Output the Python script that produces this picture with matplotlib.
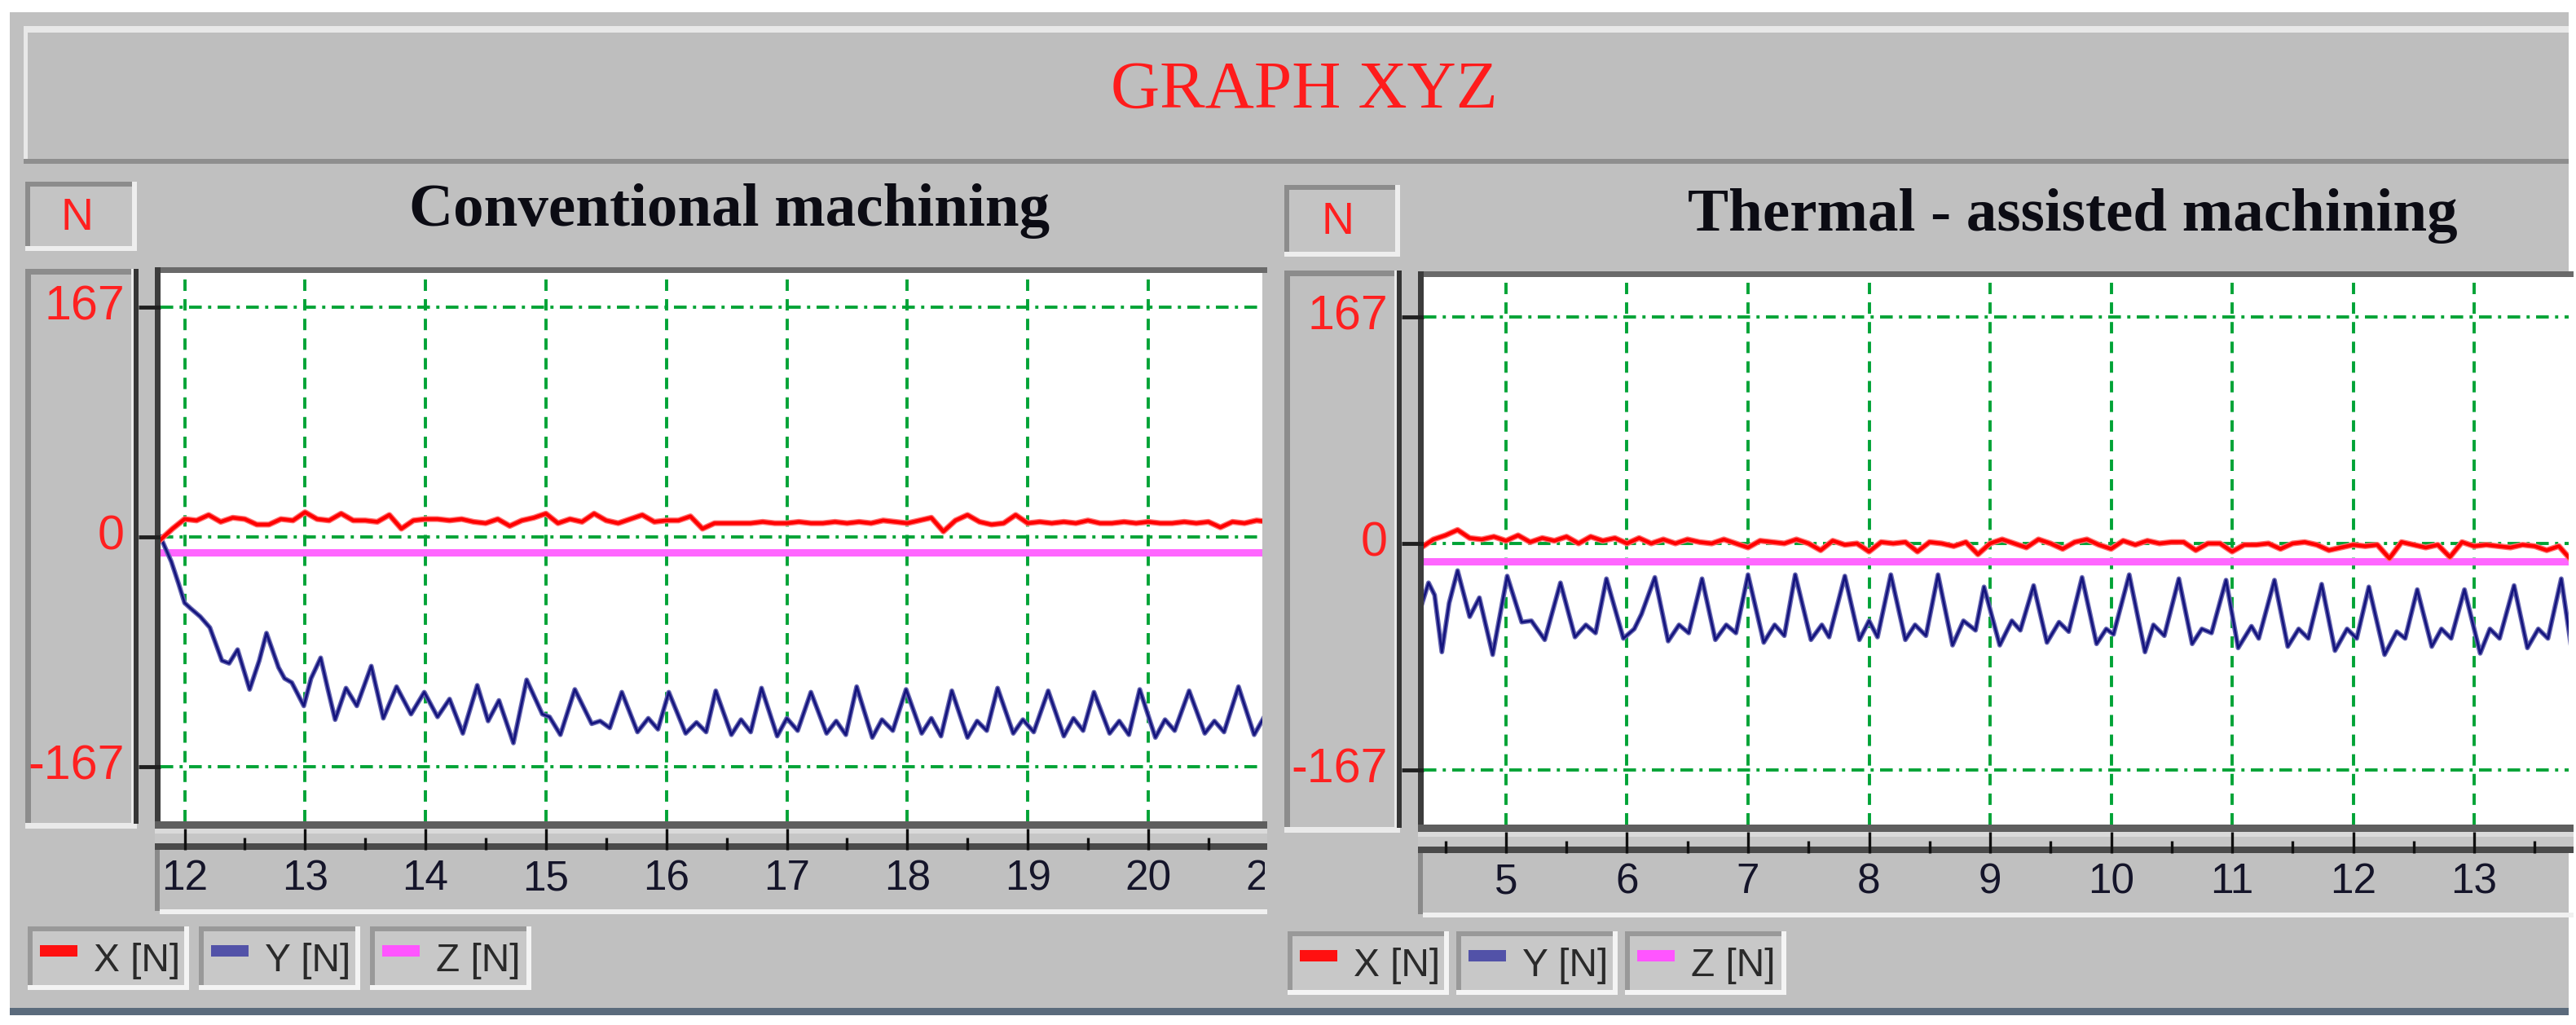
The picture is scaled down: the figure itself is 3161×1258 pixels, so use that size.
import matplotlib
matplotlib.use("Agg")
import matplotlib.pyplot as plt
import matplotlib.transforms as mtransforms
from matplotlib import font_manager
from matplotlib.patches import Rectangle
import numpy as np

# ---------------- values ----------------
force_ticks = [167, 0, -167]
legend_labels = ["X [N]", "Y [N]", "Z [N]"]

# conventional machining
conv_ticks = [12, 13, 14, 15, 16, 17, 18, 19, 20, 21]
conv_x_start, conv_x_step = 11.8, 0.1
conv_x = [-2, 6, 13, 12, 16, 11, 14, 13, 9, 9,
          13, 12, 18, 13, 12, 17, 12, 12, 11, 16,
          6, 12, 13, 13, 12, 13, 11, 10, 13, 8,
          12, 14, 17, 10, 13, 11, 17, 12, 10, 13,
          16, 11, 12, 12, 15, 6, 10, 10, 10, 10,
          11, 10, 10, 11, 10, 10, 11, 10, 11, 10,
          12, 11, 10, 12, 14, 4, 12, 16, 11, 9,
          10, 16, 10, 11, 10, 11, 10, 12, 10, 10,
          11, 10, 11, 10, 10, 11, 10, 11, 7, 11,
          10, 12, 11]
conv_y_t = [11.80, 11.84, 11.89, 11.95, 12.00, 12.05, 12.13, 12.21, 12.31, 12.37,
            12.44, 12.54, 12.62, 12.68, 12.78, 12.83, 12.89, 12.99, 13.05, 13.13,
            13.19, 13.25, 13.34, 13.43, 13.55, 13.65, 13.76, 13.88, 13.99, 14.10,
            14.20, 14.31, 14.43, 14.52, 14.61, 14.73, 14.84, 14.97, 15.03, 15.12,
            15.24, 15.38, 15.45, 15.53, 15.63, 15.76, 15.85, 15.93, 16.02, 16.16,
            16.25, 16.33,
            16.41, 16.54, 16.62, 16.70, 16.79, 16.92, 17.00, 17.09,
            17.20, 17.33, 17.41, 17.49, 17.58, 17.71, 17.79, 17.88,
            17.99, 18.12, 18.20, 18.28, 18.37, 18.50, 18.58, 18.66,
            18.75, 18.88, 18.96, 19.05, 19.17, 19.30, 19.38, 19.46,
            19.55, 19.68, 19.76, 19.84, 19.93, 20.06, 20.14, 20.22,
            20.34, 20.47, 20.55, 20.63, 20.75, 20.88, 20.97]
conv_y = [0, -8, -18, -34, -48, -52, -58, -66, -90, -92,
          -82, -111, -90, -70, -95, -103, -106, -123, -103, -88,
          -111, -133, -110, -123, -94, -132, -109, -129, -113, -131,
          -118, -143, -108, -134, -119, -150, -104, -129, -131, -144,
          -111, -136, -134, -139, -113, -142, -132, -140, -113, -143,
          -135, -142,
          -112, -144, -133, -142, -110, -145, -132, -141,
          -113, -143, -134, -144, -109, -146, -133, -141,
          -111, -143, -132, -145, -112, -146, -134, -141,
          -110, -143, -133, -142, -112, -145, -132, -141,
          -113, -143, -134, -144, -111, -146, -133, -141,
          -112, -143, -134, -142, -109, -144, -130]
conv_z = -11

# thermal-assisted machining
therm_ticks = [5, 6, 7, 8, 9, 10, 11, 12, 13, 14]
therm_x_start, therm_x_step = 4.3, 0.1
therm_x = [-3, 3, 6, 10, 4, 3, 5, 2, 6, 1,
           4, 2, 5, 0, 5, 2, 4, 0, 4, 0,
           3, 0, 3, 1, 0, 3, 0, -3, 2, 1,
           0, 3, 0, -5, 2, -1, 0, -6, 1, 0,
           1, -6, 1, 0, -2, 1, -8, 0, 3, 0,
           -3, 3, 0, -4, 1, 3, -1, -4, 2, -1,
           2, 0, 1, 1, -5, 0, 0, -6, -1, -1,
           0, -4, 0, 1, -1, -5, -3, -1, -2, -1,
           -11, 1, -1, -3, -1, -10, 1, -2, -1, -2,
           -3, -1, -2, -5, -2, -12, -1, -4]
therm_y_t = [4.30, 4.36, 4.41, 4.47, 4.53, 4.60, 4.70, 4.78, 4.89, 5.01,
             5.13, 5.21, 5.32, 5.45, 5.57, 5.66, 5.74, 5.83, 5.97, 6.06,
             6.12, 6.23, 6.34, 6.43, 6.51, 6.62, 6.73, 6.82, 6.90, 7.00,
             7.13, 7.22, 7.30, 7.39, 7.52, 7.61, 7.67, 7.80, 7.92, 8.00,
             8.07, 8.18, 8.30, 8.38, 8.47, 8.57, 8.69, 8.78, 8.88, 8.95,
             9.08, 9.18, 9.25, 9.36, 9.47, 9.57, 9.65, 9.76, 9.88, 9.96,
             10.02, 10.15, 10.28, 10.35, 10.44, 10.56, 10.67, 10.75, 10.83, 10.95,
             11.05, 11.16, 11.22, 11.35, 11.46, 11.55, 11.63, 11.74, 11.85, 11.95,
             12.03, 12.13, 12.26, 12.36, 12.43, 12.53, 12.65, 12.73, 12.81, 12.92,
             13.05, 13.13, 13.21, 13.33, 13.44, 13.53, 13.61, 13.72, 13.80, 13.88]
therm_y = [-46, -29, -38, -80, -44, -20, -54, -40, -82, -24,
           -58, -57, -71, -29, -69, -60, -66, -26, -70, -63,
           -52, -25, -72, -60, -66, -26, -71, -60, -66, -23,
           -73, -60, -68, -23, -71, -60, -69, -24, -71, -57,
           -69, -23, -71, -60, -68, -23, -75, -57, -64, -32,
           -75, -57, -64, -31, -73, -58, -65, -25, -74, -63,
           -67, -23, -80, -60, -68, -26, -74, -63, -66, -27,
           -77, -61, -70, -27, -76, -63, -70, -30, -79, -63,
           -70, -32, -82, -65, -70, -34, -76, -63, -70, -34,
           -81, -63, -70, -31, -77, -63, -70, -26, -75, -60]
therm_z = -13.5

# ---------------- fonts ----------------
names = {f.name for f in font_manager.fontManager.ttflist}
if "Liberation Sans Narrow" in names:
    NARROW, nscale = "Liberation Sans Narrow", 1.0
else:
    NARROW, nscale = "Liberation Sans", 0.82
SERIF = "Liberation Serif"

W, H = 3161, 1258
fig = plt.figure(figsize=(W / 100, H / 100), dpi=100)
fig.patch.set_facecolor("white")
bg = fig.add_axes([0, 0, 1, 1])
bg.set_xlim(0, W)
bg.set_ylim(H, 0)
bg.axis("off")

GRAY = "#c0c0c0"
GREEN = "#00a336"
RED = "#ff0000"
NAVY = "#14147e"
PINK = "#ff66ff"


def box(x0, y0, x1, y1, color, z=1):
    bg.add_patch(Rectangle((x0, y0), x1 - x0, y1 - y0, facecolor=color,
                           edgecolor="none", zorder=z))


def bevel(x0, y0, x1, y1, fill, dark, light, w=5):
    box(x0, y0, x1, y1, fill)
    box(x0, y0, x1, y0 + w, dark)
    box(x0, y0, x0 + w, y1, dark)
    box(x0, y1 - w, x1, y1, light)
    box(x1 - w, y0, x1, y1, light)


def pixel_clip(x0, y0, x1, y1):
    # figure pixels (top-left origin) -> display bbox
    return mtransforms.Bbox.from_extents(x0, H - y1, x1, H - y0)


# window frame + title bar
box(12, 15, 3152, 1245, GRAY)
box(12, 1237, 3152, 1246, "#5b6b7c")
box(29, 32, 3152, 200, "#bebebe")
box(29, 32, 3152, 40, "#e8e8e8")
box(29, 32, 34, 200, "#e8e8e8")
box(29, 195, 3152, 201, "#8e8e8e")
bg.text(1600, 112, "GRAPH XYZ", color="#ff1c1c", fontsize=60, family=SERIF,
        ha="center", va="center")


def draw_panel(p, title, ticks, xs_start, xs_step, xs, yt, ys, z):
    px0, py0, px1, py1 = p["plot"]
    tpx, ppu = p["xcal"]
    zpx, ppf = p["ycal"]

    # N box and title
    nx0, ny0, nx1, ny1 = p["nbox"]
    bevel(nx0, ny0, nx1, ny1, "#c4c4c4", "#8c8c8c", "#eeeeee", 6)
    bg.text((nx0 + nx1) / 2 - 5, (ny0 + ny1) / 2 + 2, "N", color="#ff2020",
            fontsize=40, family=NARROW, ha="center", va="center")
    bg.text(p["title"][0], p["title"][1], title, fontsize=54, family=SERIF,
            weight="bold", color="#0c0c14", ha="center", va="baseline")

    # y label column
    cx0, cy0, cx1, cy1 = p["col"]
    bevel(cx0, cy0, cx1, cy1, GRAY, "#8c8c8c", "#eaeaea", 7)
    box(cx1 - 4, cy0, cx1 + 2, cy1 - 6, "#353535")

    # plot frame and bands
    box(px0 - 7, py0 - 7, px1 + 6, py0, "#6a6a6a")
    box(px0 - 7, py0 - 7, px0, py1 + 35, "#3c3c3c")
    box(px0, py0, px1, py1, "white")
    b = py1
    box(px0 - 7, b, px1 + 6, b + 9, "#5e5e5e")
    box(px0 - 7, b + 9, px1 + 6, b + 15, "#dadada")
    box(px0 - 7, b + 15, px1 + 6, b + 27, "#c6c6c6")
    box(px0 - 7, b + 27, px1 + 6, b + 35, "#4a4a4a")
    box(px0 - 7, b + 35, px0 - 1, b + 110, "#8a8a8a")
    box(px0 - 1, b + 108, px1 + 6, b + 114, "#f0f0f0")

    ax = fig.add_axes([px0 / W, 1 - py1 / H, (px1 - px0) / W, (py1 - py0) / H])
    ax.set_xlim(ticks[0] + (px0 - tpx) / ppu, ticks[0] + (px1 - tpx) / ppu)
    ax.set_ylim((zpx - py1) / ppf, (zpx - py0) / ppf)
    ax.axis("off")

    for t in ticks:
        ax.axvline(t, color=GREEN, lw=2.8, ls=(0, (3.6, 2.6)), zorder=1)
    for f in force_ticks:
        ax.axhline(f, color=GREEN, lw=2.8, ls=(0, (4, 2, 1, 2)), zorder=1)

    t_x = xs_start + xs_step * np.arange(len(xs))
    ax.axhline(z, color=PINK, lw=6.5, zorder=2)
    ax.plot(yt, ys, color="#6464b0", lw=4.2, zorder=3)
    ax.plot(yt, ys, color=NAVY, lw=2.0, zorder=4)
    ax.plot(t_x, xs, color="#ff7070", lw=5.2, zorder=5)
    ax.plot(t_x, xs, color=RED, lw=3.2, zorder=6)

    # pixel-row / data-value blends
    x_blend = mtransforms.blended_transform_factory(ax.transData, bg.transData)
    y_blend = mtransforms.blended_transform_factory(bg.transData, ax.transData)

    # y tick labels and stubs
    for f in force_ticks:
        bg.text(cx1 - 15, f, str(f), transform=y_blend, color="#ff2020",
                fontsize=50 * nscale * 1.04, family=NARROW, ha="right", va="center")
    bg.hlines(force_ticks, cx1 + 2, px0, transform=y_blend, color="#202020", lw=3.5)

    # x ticks in the band
    minor = [ticks[0] - 0.5] + [t + 0.5 for t in ticks]
    band_clip = pixel_clip(px0 - 7, b, px1 + 6, b + 40)
    vl = bg.vlines(ticks, b + 9, b + 35, transform=x_blend, color="#101010", lw=2.4)
    vl.set_clip_box(band_clip)
    vm = bg.vlines(minor, b + 20, b + 35, transform=x_blend, color="#101010", lw=2.4)
    vm.set_clip_box(band_clip)
    lab_clip = pixel_clip(px0 - 1, b + 35, px1 + 3, b + 108)
    for t in ticks:
        tx = bg.text(t, b + 71, str(t), transform=x_blend, color="#15152a",
                     fontsize=45 * nscale, family=NARROW, ha="center", va="center")
        tx.set_clip_box(lab_clip)
        tx.set_clip_on(True)

    # legend buttons
    lx, ly = p["legend"]
    for i, (lab, col) in enumerate(zip(legend_labels, ["#ff1010", "#5252a8", "#ff55ff"])):
        x0 = lx + i * p["legend_step"]
        bevel(x0, ly, x0 + 198, ly + 78, "#c8c8c8", "#999999", "#f4f4f4", 6)
        box(x0 + 15, ly + 23, x0 + 61, ly + 37, col, 2)
        bg.text(x0 + 81, ly + 42, lab, color="#2a2a2a", fontsize=42 * nscale,
                family=NARROW, ha="left", va="center")


left = dict(plot=(197, 335, 1549, 1008), xcal=(226.5, 147.8), ycal=(659, 1.686),
            nbox=(31, 223, 168, 308), title=(895, 277), col=(31, 330, 168, 1017),
            legend=(34, 1137), legend_step=210)
right = dict(plot=(1747, 340, 3152, 1012), xcal=(1848, 148.5), ycal=(667, 1.665),
             nbox=(1576, 227, 1718, 315), title=(2543, 283), col=(1576, 332, 1718, 1022),
             legend=(1580, 1143), legend_step=207)

draw_panel(left, "Conventional machining", conv_ticks, conv_x_start, conv_x_step,
           conv_x, conv_y_t, conv_y, conv_z)
draw_panel(right, "Thermal - assisted machining", therm_ticks, therm_x_start, therm_x_step,
           therm_x, therm_y_t, therm_y, therm_z)

fig.savefig("out.png", dpi=100, facecolor="white")
